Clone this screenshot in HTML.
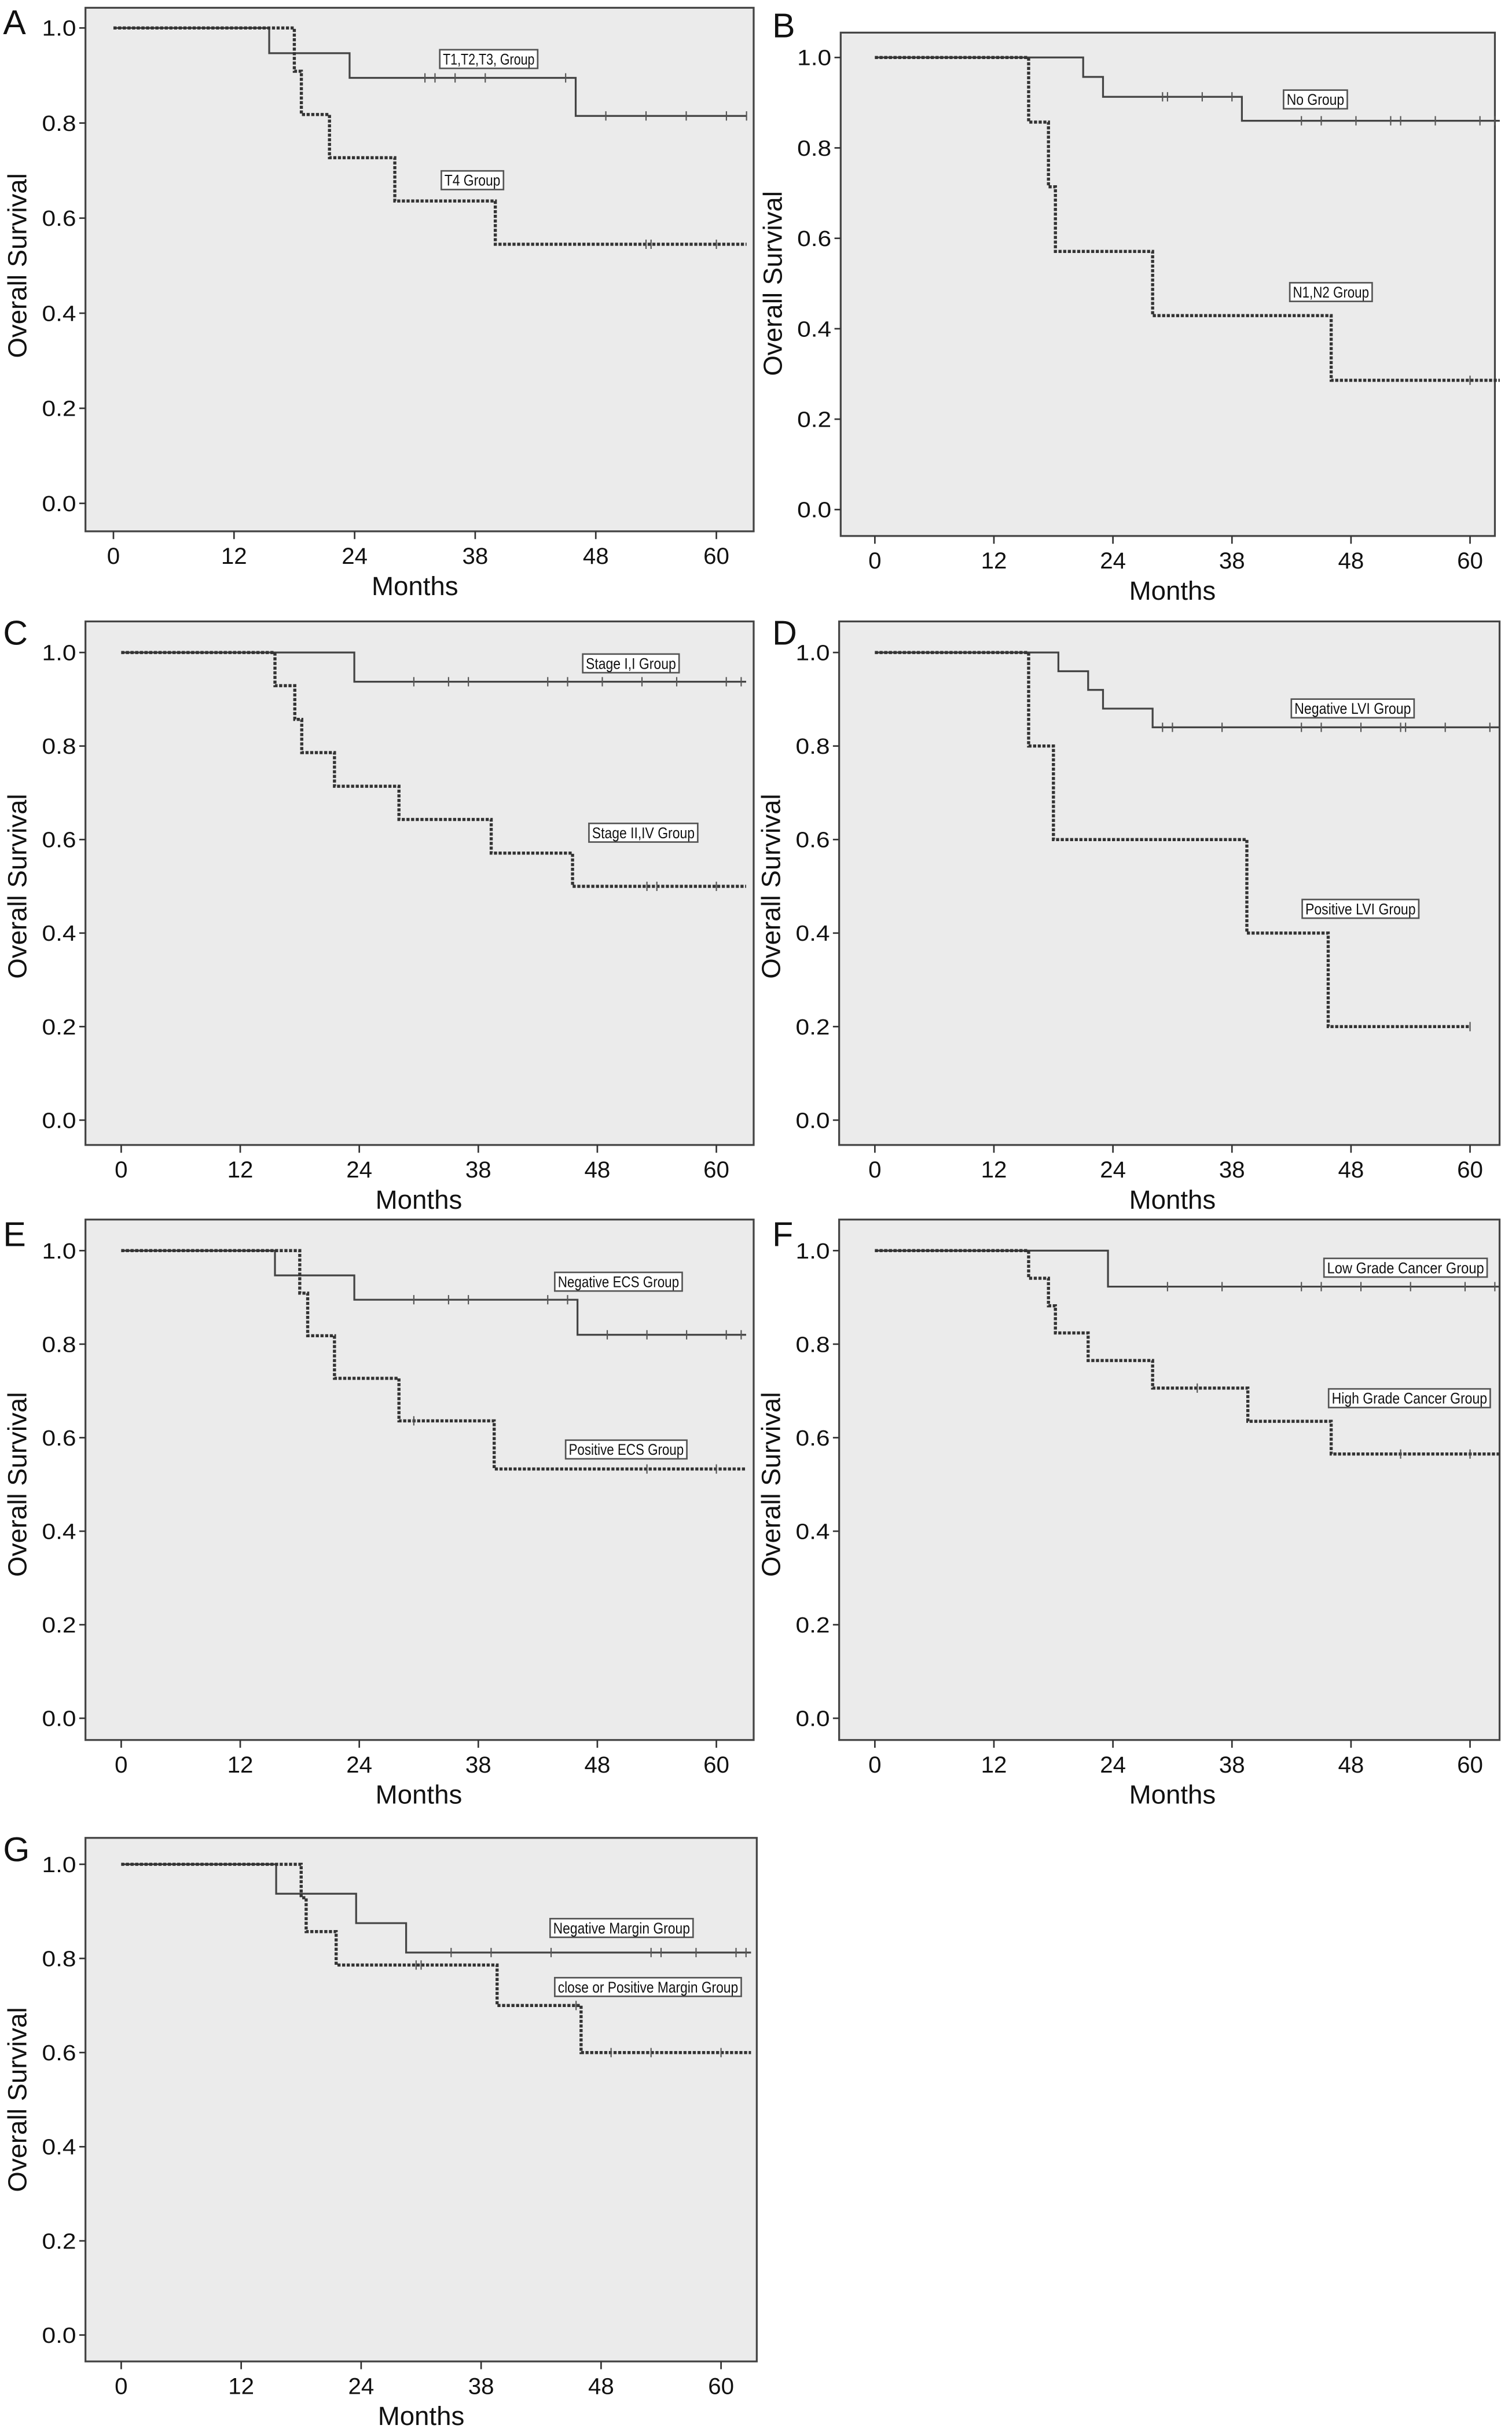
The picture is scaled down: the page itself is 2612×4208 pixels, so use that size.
<!DOCTYPE html>
<html><head><meta charset="utf-8"><style>
html,body{margin:0;padding:0;background:#fff;}
svg{display:block;}
text{font-family:"Liberation Sans",sans-serif;fill:#111;}
</style></head><body>
<svg id="fig" width="2612" height="4208" viewBox="0 0 973 1568" preserveAspectRatio="none" xmlns="http://www.w3.org/2000/svg"></svg>
<script>
// Month tick labels (equally spaced, as printed)
const xTickLabels = ["0","12","24","38","48","60"];
const yTickValues = [0,0.2,0.4,0.6,0.8,1.0];
// Panel A
const aSolidT = [0,15.5,23.5,46,63], aSolidS = [1,0.947,0.895,0.815,0.815], aSolidC = [31,32,34,37,45,49,53,57,61,63];
const aDashT = [0,18,18.7,21.5,28,38,63], aDashS = [1,0.909,0.818,0.727,0.636,0.545,0.545], aDashC = [53,53.5,60];
// Panel B
const bSolidT = [0,21,23,37,63], bSolidS = [1,0.957,0.913,0.86,0.86], bSolidC = [29,29.5,33,36,43,45,48.5,52,53,56.5,61,62.5];
const bDashT = [0,15.5,17.5,18.2,28,46,63], bDashS = [1,0.857,0.714,0.571,0.429,0.286,0.286], bDashC = [60];
// Panel C
const cSolidT = [0,23.5,63], cSolidS = [1,0.9375,0.9375], cSolidC = [29.5,33,35,43,45,48.5,52.5,56,61,62.5];
const cDashT = [0,15.5,17.5,18.2,21.5,28,37.3,45.5,63], cDashS = [1,0.929,0.857,0.786,0.714,0.643,0.571,0.5,0.5], cDashC = [53,54,60];
// Panel D
const dSolidT = [0,18.5,21.5,23,28,63], dSolidS = [1,0.96,0.92,0.88,0.84,0.84], dSolidC = [29,30,35,43,45,49,53,53.5,57.5,62];
const dDashT = [0,15.5,18,37.5,45.7,60], dDashS = [1,0.8,0.6,0.4,0.2,0.2], dDashC = [60];
// Panel E
const eSolidT = [0,15.5,23.5,46,63], eSolidS = [1,0.947,0.895,0.82,0.82], eSolidC = [29.5,33,35,43,45,49,53,57,61,62.5];
const eDashT = [0,18,18.8,21.5,28,37.6,63], eDashS = [1,0.909,0.818,0.727,0.636,0.533,0.533], eDashC = [29.5,53,60];
// Panel F
const fSolidT = [0,23.5,63], fSolidS = [1,0.923,0.923], fSolidC = [29.5,35,43,45,49,54,59.5,62.5];
const fDashT = [0,15.5,17.5,18.2,21.5,28,37.6,46,63], fDashS = [1,0.941,0.882,0.824,0.765,0.706,0.635,0.565,0.565], fDashC = [32.5,53,60];
// Panel G
const gSolidT = [0,15.5,23.5,28.5,63], gSolidS = [1,0.9375,0.875,0.8125,0.8125], gSolidC = [33,37,43,53,54,57.5,61.5,62.5];
const gDashT = [0,18,18.5,21.5,37.6,46,63], gDashS = [1,0.929,0.857,0.786,0.70,0.60,0.60], gDashC = [29.5,30,45.5,49,53,60];

const panels = [
 {id:"a",letter:"A",box:[55,5,485,342],y1:18,y0:324,x0:73,x60:461,lx:2,ly:22,
  series:[[aSolidT,aSolidS,aSolidC,false],[aDashT,aDashS,aDashC,true]],
  labels:[["T1,T2,T3, Group",283,32,63],["T4 Group",284,110,40]]},
 {id:"b",letter:"B",box:[541,21,962,345],y1:37,y0:328,x0:563,x60:946,lx:497,ly:24,
  series:[[bSolidT,bSolidS,bSolidC,false],[bDashT,bDashS,bDashC,true]],
  labels:[["No Group",826,58,41],["N1,N2 Group",830,182,53]]},
 {id:"c",letter:"C",box:[55,400,485,737],y1:420,y0:721,x0:78,x60:461,lx:2,ly:415,
  series:[[cSolidT,cSolidS,cSolidC,false],[cDashT,cDashS,cDashC,true]],
  labels:[["Stage I,I Group",375,421,62],["Stage II,IV Group",379,530,70]]},
 {id:"d",letter:"D",box:[540,400,965,737],y1:420,y0:721,x0:563,x60:946,lx:497,ly:415,
  series:[[dSolidT,dSolidS,dSolidC,false],[dDashT,dDashS,dDashC,true]],
  labels:[["Negative LVI Group",831,450,79],["Positive LVI Group",838,579,75]]},
 {id:"e",letter:"E",box:[55,785,485,1120],y1:805,y0:1106,x0:78,x60:461,lx:2,ly:802,
  series:[[eSolidT,eSolidS,eSolidC,false],[eDashT,eDashS,eDashC,true]],
  labels:[["Negative ECS Group",357,819,82],["Positive ECS Group",364,927,78]]},
 {id:"f",letter:"F",box:[540,785,965,1120],y1:805,y0:1106,x0:563,x60:946,lx:497,ly:802,
  series:[[fSolidT,fSolidS,fSolidC,false],[fDashT,fDashS,fDashC,true]],
  labels:[["Low Grade Cancer Group",852,810,105],["High Grade Cancer Group",855,894,104]]},
 {id:"g",letter:"G",box:[55,1183,487,1520],y1:1200,y0:1503,x0:78,x60:464,lx:2,ly:1198,
  series:[[gSolidT,gSolidS,gSolidC,false],[gDashT,gDashS,gDashC,true]],
  labels:[["Negative Margin Group",354,1235,92],["close or Positive Margin Group",357,1273,120]]}
];

const NS="http://www.w3.org/2000/svg";
const svg=document.getElementById("fig");
function mk(tag,attrs,parent){const e=document.createElementNS(NS,tag);for(const k in attrs)e.setAttribute(k,attrs[k]);(parent||svg).appendChild(e);return e;}

panels.forEach(p=>{
  const g=mk("g",{});
  
  
  const [bx0,by0,bx1,by1]=p.box;
  const xs=m=>p.x0+(p.x60-p.x0)*m/60;
  const ys=s=>p.y0+(p.y1-p.y0)*s;
  const bg=mk("rect",{x:bx0,y:by0,width:bx1-bx0,height:by1-by0,fill:"#ebebeb",stroke:"#444","stroke-width":1.2},g);
  
  
  const L=mk("text",{x:p.lx,y:p.ly,"font-size":22},g);L.textContent=p.letter;
  
  
  yTickValues.forEach(v=>{
    const y=ys(v);
    mk("line",{x1:bx0-4,x2:bx0,y1:y,y2:y,stroke:"#333","stroke-width":1},g);
    const t=mk("text",{x:bx0-6,y:y+5,"font-size":14,"text-anchor":"end",textLength:22,lengthAdjust:"spacingAndGlyphs"},g);
    t.textContent=v.toFixed(1);
    
    
  });
  xTickLabels.forEach((lab,i)=>{
    const x=xs(i*12);
    mk("line",{x1:x,x2:x,y1:by1,y2:by1+5,stroke:"#333","stroke-width":1},g);
    const t=mk("text",{x:x,y:by1+21,"font-size":15,"text-anchor":"middle"},g);
    t.textContent=lab;
    
    
  });
  const xt=mk("text",{x:(p.x0+p.x60)/2,y:by1+41,"font-size":17,"text-anchor":"middle"},g);
  xt.textContent="Months";
  
  
  const cy=(p.y0+p.y1)/2, cx=bx0-38;
  const yt=mk("text",{x:cx,y:cy,"font-size":17,"text-anchor":"middle",transform:`rotate(-90 ${cx} ${cy})`},g);
  yt.textContent="Overall Survival";
  
  
  p.series.forEach(([T,S,C,dashed])=>{
    let d=`M${xs(T[0])},${ys(S[0])}`;
    for(let i=1;i<T.length;i++){d+=` H${xs(T[i])} V${ys(S[i])}`;}
    const path=mk("path",{d:d,fill:"none",stroke:dashed?"#333":"#444","stroke-width":dashed?2:1.2,"stroke-dasharray":dashed?"2,1":"none"},g);
    
    
    C.forEach(c=>{
      let s=S[0];for(let i=0;i<T.length;i++){if(T[i]<=c)s=S[i];}
      const m=mk("line",{x1:xs(c),x2:xs(c),y1:ys(s)-3,y2:ys(s)+3,stroke:"#555","stroke-width":0.8},g);
      
      
    });
  });
  p.labels.forEach(([txt,x,y,w])=>{
    const r=mk("rect",{x:x,y:y,width:w,height:12,fill:"#fff",stroke:"#555","stroke-width":1},g);
    
    
    const t=mk("text",{x:x+2,y:y+9.5,"font-size":10,textLength:w-4,lengthAdjust:"spacingAndGlyphs"},g);
    t.textContent=txt;
    
    
  });
});
</script>
</body></html>
